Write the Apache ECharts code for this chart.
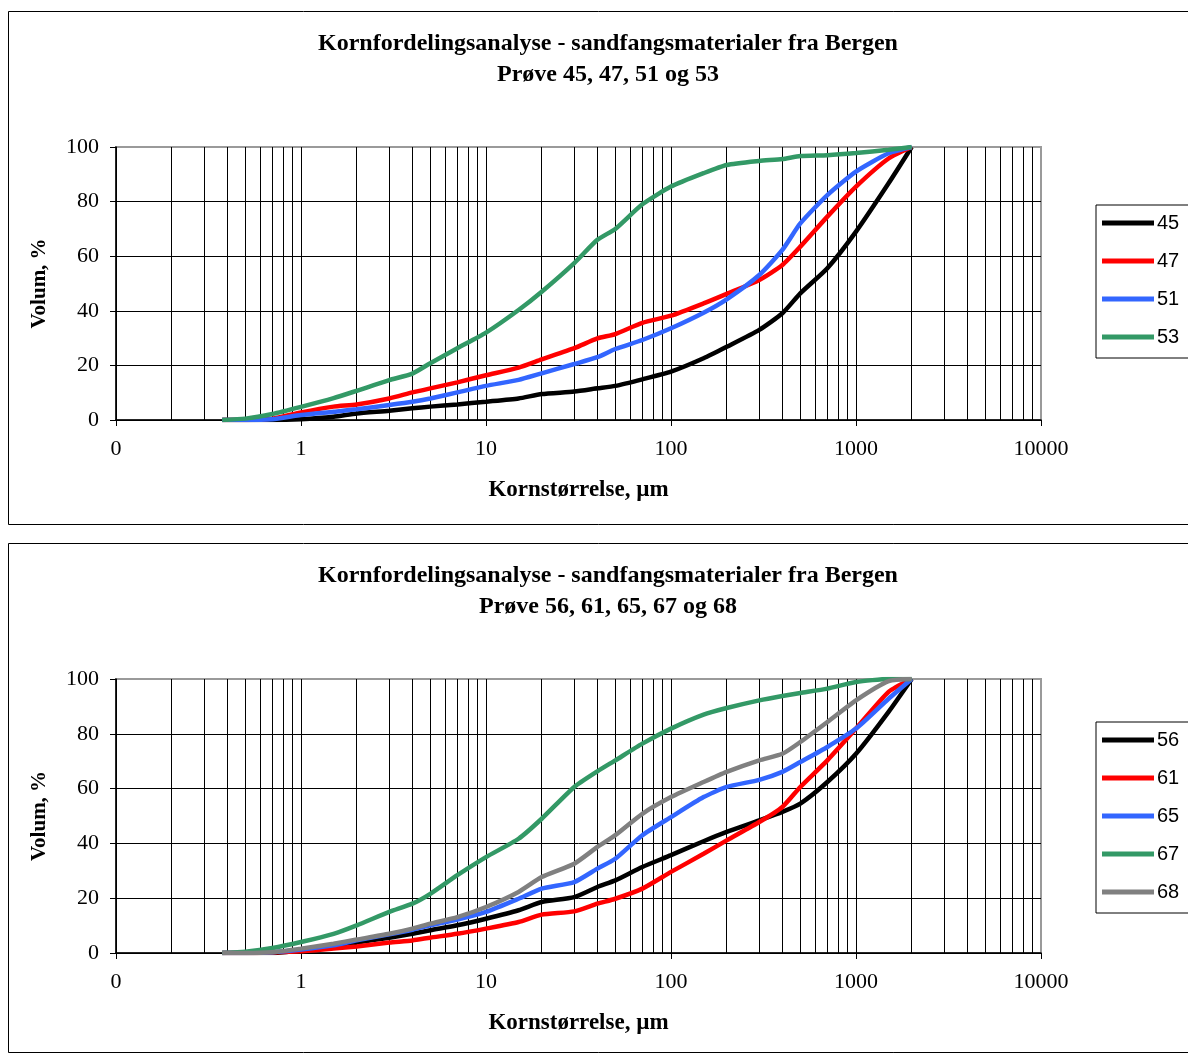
<!DOCTYPE html>
<html>
<head>
<meta charset="utf-8">
<script src="https://cdn.jsdelivr.net/npm/echarts@6/dist/echarts.min.js"></script>
<style>
html,body{margin:0;padding:0;background:#fff;}
#c{width:1188px;height:1054px;}
</style>
</head>
<body>
<div id="c"></div>
<script>
// Grain sizes (µm) at which the curves were read
var sizes = [0.375,0.5,0.7,1,1.5,2,3,4,5,7,10,15,20,30,40,50,70,100,150,200,300,400,500,700,1000,1500,2000];

// Top chart: Prøve 45, 47, 51, 53 (cumulative volume %)
var s45 = [0,0,0,0.3,1.2,2.4,3.4,4.3,4.9,5.7,6.7,7.9,9.5,10.4,11.6,12.5,14.9,17.7,22.6,26.8,33,39.1,46.4,55.6,69,86.7,100];
var s47 = [0,0,0.5,2.8,4.9,5.7,7.9,10.1,11.6,13.8,16.4,19.2,22.2,26.3,29.9,31.5,35.6,38.2,42.7,46.2,51.3,56.8,63.5,74.5,85.5,95.8,100];
var s51 = [0,0,0.3,1.8,3.0,3.9,5.5,6.7,7.9,10.1,12.5,14.7,17.1,20.5,23,26,29.3,33.6,39.3,44.2,53.1,62.3,72,82.4,91,97.7,100];
var s53 = [0,0.5,2.2,4.8,8,10.7,14.6,17,20.8,26.3,32,40.3,47,57.5,66,70,79,85.5,90.4,93.4,94.9,95.6,96.7,97,97.8,99,100];

// Bottom chart: Prøve 56, 61, 65, 67, 68
var s56 = [0,0,0,1,2.2,3.8,5.6,7,8.3,10.1,12.5,15.6,18.6,20.4,24.1,26.5,31.4,35.7,40.8,44.2,48.4,51.5,54.5,62.4,72.7,88,100];
var s61 = [0,0,0.2,0.6,1.6,2.4,3.8,4.6,5.6,7,8.9,11.3,14,15.2,18,19.8,23.5,29.6,36.2,41.1,47.8,53.3,60.6,70.3,81.9,95.3,100];
var s65 = [0,0,0.3,1.3,2.8,4.6,6.8,8.5,10.1,12.2,15,19.8,23.5,25.9,30.8,34.4,43,49.6,56.9,60.6,63.2,66.1,69.7,75.2,81.9,92.8,100];
var s67 = [0,0.5,1.8,4,7,10.1,15,18,21.6,28.4,35,41.7,49,60.6,66.3,70.3,76.4,81.9,87,89.4,92.2,93.8,94.9,96.5,98.9,100,100];
var s68 = [0,0,0.3,1.6,3.4,4.9,7,8.9,10.7,13.1,16.8,22.3,27.7,32.6,38.7,43,50.8,56.9,62.4,66.1,70.3,72.7,77,84.3,92.2,99.2,100];

var topNames = ['45','47','51','53'];
var topSeries = [s45, s47, s51, s53];
var topColors = ['#000000','#FF0000','#3366FF','#339966'];
var botNames = ['56','61','65','67','68'];
var botSeries = [s56, s61, s65, s67, s68];
var botColors = ['#000000','#FF0000','#3366FF','#339966','#808080'];

var title1 = 'Kornfordelingsanalyse - sandfangsmaterialer fra Bergen\nPrøve 45, 47, 51 og 53';
var title2 = 'Kornfordelingsanalyse - sandfangsmaterialer fra Bergen\nPrøve 56, 61, 65, 67 og 68';
var xName = 'Kornstørrelse, µm';
var yName = 'Volum, %';

// minor log gridlines 2..9 per decade
var minorVals = [];
for (var d = -1; d < 4; d++) {
  for (var m = 2; m <= 9; m++) minorVals.push(Number((m * Math.pow(10, d)).toPrecision(3)));
}

var serif = '"Liberation Serif","Times New Roman",serif';
var sans = '"Liberation Sans",Arial,sans-serif';

function xAxisDef(gi) {
  return {
    gridIndex: gi, type: 'log', logBase: 10, min: 0.1, max: 10000,
    name: xName, nameLocation: 'middle', nameGap: 59,
    nameTextStyle: {fontFamily: serif, fontWeight: 'bold', fontSize: 23, color: '#000'},
    axisLine: {show: true, lineStyle: {color: '#000', width: 1.5}},
    axisTick: {show: true, inside: false, length: 6, lineStyle: {color: '#000'}},
    axisLabel: {fontFamily: serif, fontSize: 22, color: '#000', margin: 18,
      formatter: function (v) { return v < 0.5 ? '0' : String(Math.round(v)); }},
    splitLine: {show: true, showMaxLine: false, lineStyle: {color: '#000', width: 1}},
    minorTick: {show: false}, minorSplitLine: {show: false}
  };
}
function yAxisDef(gi) {
  return {
    gridIndex: gi, type: 'value', min: 0, max: 100, interval: 20,
    name: yName, nameLocation: 'middle', nameGap: 66, nameRotate: 90,
    nameTextStyle: {fontFamily: serif, fontWeight: 'bold', fontSize: 21, color: '#000'},
    axisLine: {show: true, lineStyle: {color: '#000', width: 1.5}},
    axisTick: {show: true, inside: false, length: 6, lineStyle: {color: '#000'}},
    axisLabel: {fontFamily: serif, fontSize: 22, color: '#000', margin: 17},
    splitLine: {show: true, showMaxLine: false, lineStyle: {color: '#000', width: 1}}
  };
}

function makeSeries(names, arrs, colors, gi) {
  return names.map(function (n, i) {
    var s = {
      name: n, type: 'line', xAxisIndex: gi, yAxisIndex: gi,
      data: sizes.map(function (x, k) { return [x, arrs[i][k]]; }),
      showSymbol: false, symbol: 'none', smooth: 0.2,
      lineStyle: {color: colors[i], width: 4.5},
      itemStyle: {color: colors[i]},
      z: 3 + i
    };
    if (i === 0) {
      s.markLine = {
        silent: true, symbol: 'none', animation: false,
        label: {show: false},
        lineStyle: {color: '#000', width: 1, type: 'solid'},
        data: minorVals.map(function (v) { return {xAxis: v}; }),
        z: 1
      };
    }
    return s;
  });
}

var legendCommon = {
  orient: 'vertical', left: 1096, icon: 'rect', itemWidth: 52, itemHeight: 5,
  itemGap: 18, borderColor: '#000', borderWidth: 1, borderRadius: 0,
  padding: [8, 40, 11, 6],
  textStyle: {fontFamily: sans, fontSize: 20, color: '#000', padding: [0, 0, 0, -2]}
};

var option = {
  animation: false,
  backgroundColor: '#fff',
  graphic: [
    {type: 'rect', shape: {x: 8.5, y: 11.5, width: 1200, height: 513}, style: {fill: 'none', stroke: '#000', lineWidth: 1}, z: 0},
    {type: 'rect', shape: {x: 8.5, y: 543.5, width: 1200, height: 509}, style: {fill: 'none', stroke: '#000', lineWidth: 1}, z: 0}
  ],
  title: [
    {text: title1, left: 603, top: 23, textAlign: 'center',
     textStyle: {fontFamily: serif, fontWeight: 'bold', fontSize: 24, lineHeight: 31, color: '#000'}},
    {text: title2, left: 603, top: 555, textAlign: 'center',
     textStyle: {fontFamily: serif, fontWeight: 'bold', fontSize: 24, lineHeight: 31, color: '#000'}}
  ],
  legend: [
    Object.assign({}, legendCommon, {top: 205, data: topNames}),
    Object.assign({}, legendCommon, {top: 722, data: botNames})
  ],
  grid: [
    {left: 116, top: 147, width: 925, height: 273, show: true, borderColor: '#9a9a9a', borderWidth: 2, backgroundColor: 'transparent'},
    {left: 116, top: 679, width: 925, height: 274, show: true, borderColor: '#9a9a9a', borderWidth: 2, backgroundColor: 'transparent'}
  ],
  xAxis: [xAxisDef(0), xAxisDef(1)],
  yAxis: [yAxisDef(0), yAxisDef(1)],
  series: makeSeries(topNames, topSeries, topColors, 0).concat(makeSeries(botNames, botSeries, botColors, 1))
};

var chart = echarts.init(document.getElementById('c'), null, {renderer: 'canvas'});
chart.setOption(option);
</script>
</body>
</html>
